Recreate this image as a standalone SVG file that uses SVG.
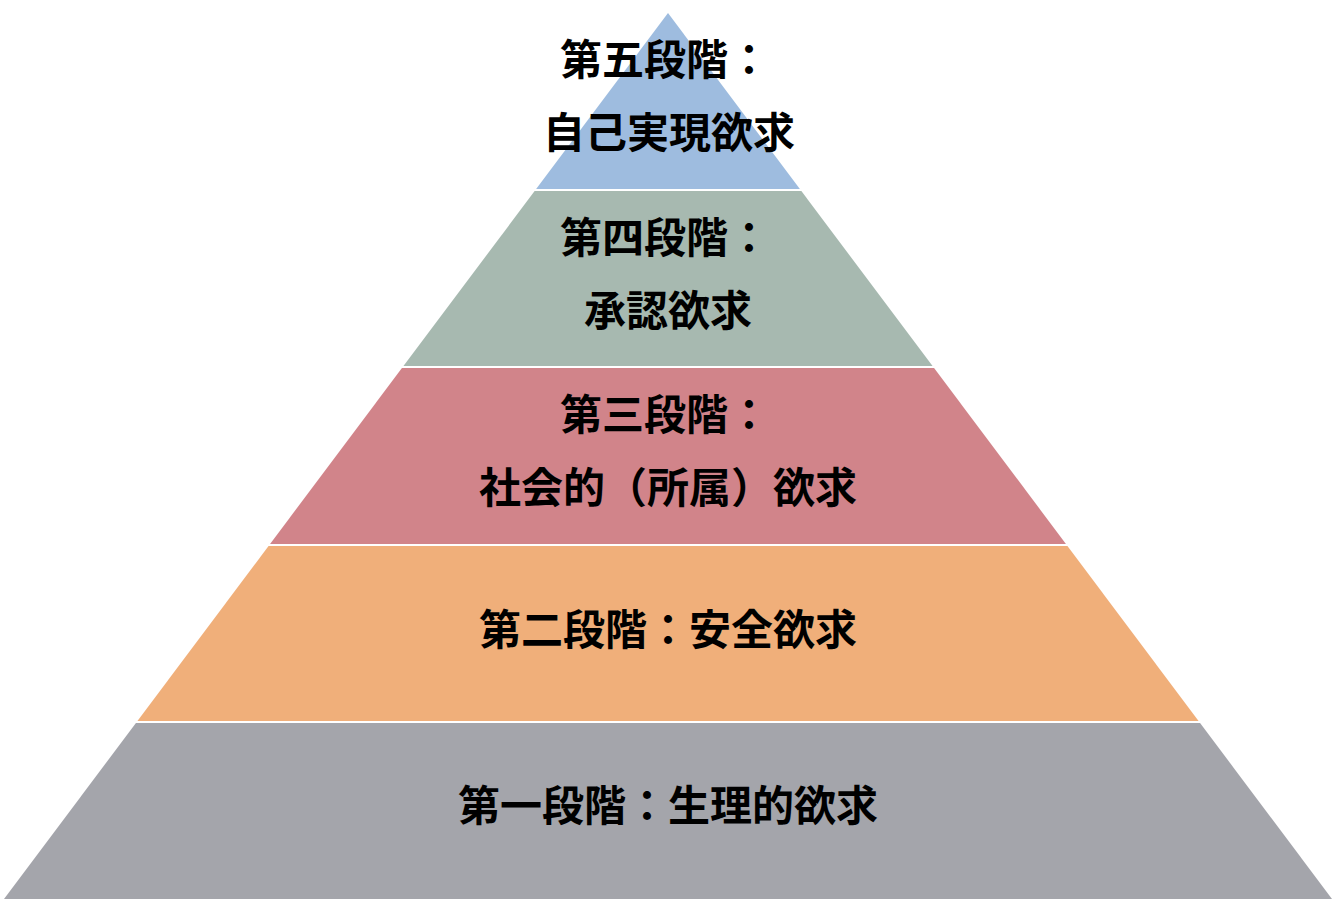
<svg xmlns="http://www.w3.org/2000/svg" width="1338" height="902" viewBox="0 0 1338 902">
<style>
.t{font-family:"Noto Sans CJK JP","Noto Sans CJK SC",sans-serif;font-weight:bold;font-size:42px;fill:#000;text-anchor:middle}
.sep{stroke:#fff;stroke-width:2}
</style>
<rect width="1338" height="902" fill="#fff"/>
<g id="level5"><polygon points="668,13 800.6,190 535.4,190" fill="#9EBCDF"/>
<text class="t" x="665" y="75">第五段階：</text><text class="t" x="669" y="148">自己実現欲求</text></g>
<g id="level4"><polygon points="535.4,190 800.6,190 933.3,367 402.7,367" fill="#A7B9B0"/>
<text class="t" x="665" y="253">第四段階：</text><text class="t" x="668" y="326">承認欲求</text></g>
<g id="level3"><polygon points="402.7,367 933.3,367 1066.7,545 269.3,545" fill="#D1848A"/>
<text class="t" x="665" y="430">第三段階：</text><text class="t" x="668" y="503">社会的（所属）欲求</text></g>
<g id="level2"><polygon points="269.3,545 1066.7,545 1199.3,722 136.7,722" fill="#F0AF7A"/>
<text class="t" x="668" y="645">第二段階：安全欲求</text></g>
<g id="level1"><polygon points="136.7,722 1199.3,722 1332,899 4,899" fill="#A4A5AB"/>
<text class="t" x="668" y="821">第一段階：生理的欲求</text></g>
<g id="separators">
<line class="sep" x1="530" y1="190" x2="806" y2="190"/>
<line class="sep" x1="398" y1="367" x2="938" y2="367"/>
<line class="sep" x1="264" y1="545" x2="1072" y2="545"/>
<line class="sep" x1="131" y1="722" x2="1205" y2="722"/>
</g>
</svg>
